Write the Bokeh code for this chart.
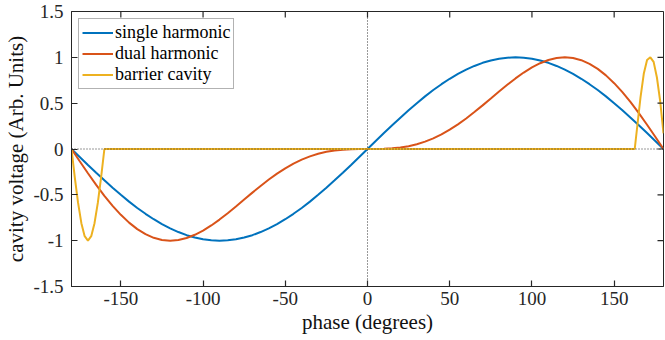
from math import pi
from bokeh.plotting import figure
from bokeh.models import Range1d, FixedTicker, Span, InlineStyleSheet
from bokeh.embed import file_html
from bokeh.resources import INLINE

phase = [-180, -175, -170, -165, -160, -155, -150, -145, -140, -135, -130, -125,
         -120, -115, -110, -105, -100, -95, -90, -85, -80, -75, -70, -65,
         -60, -55, -50, -45, -40, -35, -30, -25, -20, -15, -10, -5,
         0, 5, 10, 15, 20, 25, 30, 35, 40, 45, 50, 55,
         60, 65, 70, 75, 80, 85, 90, 95, 100, 105, 110, 115,
         120, 125, 130, 135, 140, 145, 150, 155, 160, 165, 170, 175, 180]

single_harmonic = [0.0, -0.087, -0.174, -0.259, -0.342, -0.423, -0.5, -0.574, -0.643, -0.707, -0.766, -0.819,
                   -0.866, -0.906, -0.94, -0.966, -0.985, -0.996, -1.0, -0.996, -0.985, -0.966, -0.94, -0.906,
                   -0.866, -0.819, -0.766, -0.707, -0.643, -0.574, -0.5, -0.423, -0.342, -0.259, -0.174, -0.087,
                   0.0, 0.087, 0.174, 0.259, 0.342, 0.423, 0.5, 0.574, 0.643, 0.707, 0.766, 0.819,
                   0.866, 0.906, 0.94, 0.966, 0.985, 0.996, 1.0, 0.996, 0.985, 0.966, 0.94, 0.906,
                   0.866, 0.819, 0.766, 0.707, 0.643, 0.574, 0.5, 0.423, 0.342, 0.259, 0.174, 0.087, 0.0]

dual_harmonic = [0.0, -0.134, -0.265, -0.392, -0.511, -0.62, -0.718, -0.803, -0.874, -0.929, -0.969, -0.992,
                 -1.0, -0.993, -0.971, -0.936, -0.89, -0.834, -0.77, -0.7, -0.627, -0.551, -0.476, -0.403,
                 -0.333, -0.269, -0.211, -0.159, -0.116, -0.08, -0.052, -0.031, -0.016, -0.007, -0.002, 0.0,
                 0.0, 0.0, 0.002, 0.007, 0.016, 0.031, 0.052, 0.08, 0.116, 0.159, 0.211, 0.269,
                 0.333, 0.403, 0.476, 0.551, 0.627, 0.7, 0.77, 0.834, 0.89, 0.936, 0.971, 0.993,
                 1.0, 0.992, 0.969, 0.929, 0.874, 0.803, 0.718, 0.62, 0.511, 0.392, 0.265, 0.134, 0.0]

barrier_phase = [-180, -178, -176, -174, -172, -170, -168, -166, -164, -162, -160,
                 162.5, 164, 166, 168, 170, 172, 174, 176, 178, 180]
barrier_cavity = [0.0, -0.309, -0.588, -0.809, -0.951, -1.0, -0.951, -0.809, -0.588, -0.309, 0.0,
                  0.0, 0.24, 0.56, 0.82, 0.97, 1.0, 0.95, 0.78, 0.52, 0.17]

series_names = ["single harmonic", "dual harmonic", "barrier cavity"]
series_colors = ["#0072BD", "#D95319", "#EDB120"]

x_ticks = [-150, -100, -50, 0, 50, 100, 150]
x_tick_labels = ["-150", "-100", "-50", "0", "50", "100", "150"]
y_ticks = [-1.5, -1, -0.5, 0, 0.5, 1, 1.5]
y_tick_labels = ["-1.5", "-1", "-0.5", "0", "0.5", "1", "1.5"]
x_limits = [-180, 180]
y_limits = [-1.5, 1.5]

SERIF = "Liberation Serif"
AX = "#262626"

css = InlineStyleSheet(css=":host { font-family: 'Liberation Serif', serif; } "
                           "text { font-family: 'Liberation Serif', serif !important; }")

p = figure(width=665, height=340, output_backend="svg", toolbar_location=None,
           x_range=Range1d(*x_limits), y_range=Range1d(*y_limits),
           min_border_left=71, min_border_right=2, min_border_top=11, min_border_bottom=54,
           stylesheets=[css])
p.grid.visible = False
p.outline_line_color = AX
p.background_fill_color = "white"
p.border_fill_color = "white"

p.line(phase, single_harmonic, line_color=series_colors[0], line_width=2, legend_label=series_names[0])
p.line(phase, dual_harmonic, line_color=series_colors[1], line_width=2, legend_label=series_names[1])
p.line(barrier_phase, barrier_cavity, line_color=series_colors[2], line_width=2, legend_label=series_names[2])

p.add_layout(Span(location=0, dimension="width", line_color="#333333", line_width=1, line_dash="1 2"))
p.add_layout(Span(location=0, dimension="height", line_color="#333333", line_width=1, line_dash="1 2"))

# inward ticks on the top and right edges (box-style axes); outer halves are clipped by the frame
p.scatter(x_ticks, [y_limits[1]] * len(x_ticks), marker="dash", angle=pi / 2, size=12,
          line_color=AX, line_width=1.2)
p.scatter([x_limits[1]] * len(y_ticks), y_ticks, marker="dash", size=12,
          line_color=AX, line_width=1.2)

xa = p.xaxis[0]
ya = p.yaxis[0]
xa.ticker = FixedTicker(ticks=x_ticks)
ya.ticker = FixedTicker(ticks=y_ticks)
xa.major_label_overrides = {t: s for t, s in zip(x_ticks, x_tick_labels)}
ya.major_label_overrides = {t: s for t, s in zip(y_ticks, y_tick_labels)}
xa.axis_label = "phase (degrees)"
ya.axis_label = "cavity voltage (Arb. Units)"
for a in (xa, ya):
    a.major_tick_in = 6
    a.major_tick_out = 0
    a.major_tick_line_width = 1.2
    a.minor_tick_line_color = None
    a.axis_line_color = AX
    a.major_tick_line_color = AX
    a.major_label_text_font = SERIF
    a.major_label_text_font_size = "19px"
    a.major_label_text_font_style = "normal"
    a.major_label_text_color = AX
    a.axis_label_text_font = SERIF
    a.axis_label_text_font_size = "21px"
    a.axis_label_text_font_style = "normal"
    a.axis_label_text_color = "#111111"
xa.major_label_standoff = 5
xa.axis_label_standoff = 2
ya.major_label_standoff = 8
ya.axis_label_standoff = 2

lg = p.legend[0]
lg.location = "top_left"
lg.margin = 7
lg.label_text_font = SERIF
lg.label_text_font_style = "normal"
lg.label_text_font_size = "18px"
lg.label_text_color = "#000000"
lg.glyph_width = 31
lg.glyph_height = 19
lg.label_height = 19
lg.label_standoff = 2
lg.spacing = 0
lg.padding = 3
lg.border_line_color = "#666666"
lg.border_line_width = 1
lg.background_fill_alpha = 1

open("out.html", "w").write(file_html(p, INLINE))
